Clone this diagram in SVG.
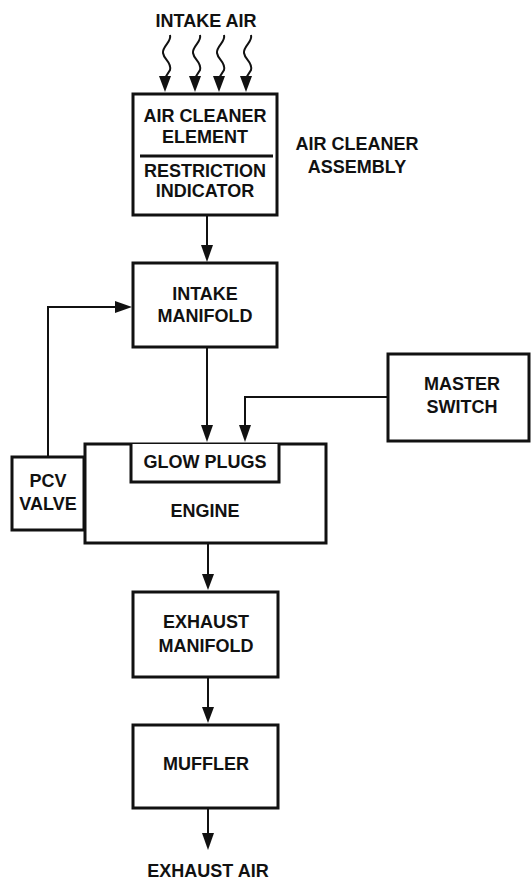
<svg xmlns="http://www.w3.org/2000/svg" width="532" height="881" viewBox="0 0 532 881">
<style>
.box{fill:#fff;stroke:#111;stroke-width:3}
.ln{fill:none;stroke:#111;stroke-width:2}
.hd{fill:#111}
.t{font-family:"Liberation Sans",Arial,sans-serif;font-weight:bold;font-size:18px;fill:#111;text-anchor:middle}
</style>
<text class="t" x="206" y="27">INTAKE AIR</text>
<text class="t" x="357" y="150">AIR CLEANER</text>
<text class="t" x="357" y="173">ASSEMBLY</text>
<g id="connectors">
<path class="ln" d="M170,35 C172,42 162,46 163,53 C164,60 172,62 170,70 L165,78"/>
<path class="ln" d="M200,35 C202,42 192,46 193,53 C194,60 202,62 200,70 L195,78"/>
<path class="ln" d="M224,35 C226,42 216,46 217,53 C218,60 226,62 224,70 L219,78"/>
<path class="ln" d="M251,35 C253,42 243,46 244,53 C245,60 253,62 251,70 L246,78"/>
<polygon class="hd" points="159,76 171,76 165,92"/>
<polygon class="hd" points="189,76 201,76 195,92"/>
<polygon class="hd" points="213,76 225,76 219,92"/>
<polygon class="hd" points="240,76 252,76 246,92"/>
<path class="ln" d="M207,215 L207,246"/>
<polygon class="hd" points="201,245 213,245 207,262"/>
<path class="ln" d="M48,457 L48,307 L117,307"/>
<polygon class="hd" points="115,301 132,307 115,313"/>
<path class="ln" d="M207,347 L207,426"/>
<polygon class="hd" points="201,425 213,425 207,442"/>
<path class="ln" d="M388,397 L245,397 L245,426"/>
<polygon class="hd" points="239,425 251,425 245,442"/>
<path class="ln" d="M208,543 L208,575"/>
<polygon class="hd" points="202,574 214,574 208,590"/>
<path class="ln" d="M208,677 L208,708"/>
<polygon class="hd" points="202,707 214,707 208,723"/>
<path class="ln" d="M208,808 L208,834"/>
<polygon class="hd" points="202,833 214,833 208,850"/>
</g>
<g id="air-cleaner">
<rect class="box" x="133" y="94" width="144" height="121"/>
<line x1="140" y1="156" x2="273" y2="156" stroke="#111" stroke-width="3"/>
<text class="t" x="205" y="122">AIR CLEANER</text>
<text class="t" x="205" y="143">ELEMENT</text>
<text class="t" x="205" y="177">RESTRICTION</text>
<text class="t" x="205" y="197">INDICATOR</text>
</g>
<g id="intake-manifold">
<rect class="box" x="133" y="263" width="144" height="84"/>
<text class="t" x="205" y="300">INTAKE</text>
<text class="t" x="205" y="322">MANIFOLD</text>
</g>
<g id="master-switch">
<rect class="box" x="388" y="354" width="141" height="87"/>
<text class="t" x="462" y="390">MASTER</text>
<text class="t" x="462" y="413">SWITCH</text>
</g>
<g id="pcv-valve">
<rect class="box" x="12" y="457" width="72" height="73"/>
<text class="t" x="48" y="487">PCV</text>
<text class="t" x="48" y="510">VALVE</text>
</g>
<g id="engine">
<rect class="box" x="85" y="444" width="241" height="99"/>
<text class="t" x="205" y="517">ENGINE</text>
</g>
<g id="glow-plugs">
<path class="box" d="M131,444 L131,482 L279,482 L279,444"/>
<text class="t" x="205" y="468">GLOW PLUGS</text>
</g>
<g id="exhaust-manifold">
<rect class="box" x="133" y="592" width="145" height="85"/>
<text class="t" x="206" y="628">EXHAUST</text>
<text class="t" x="206" y="652">MANIFOLD</text>
</g>
<g id="muffler">
<rect class="box" x="133" y="725" width="145" height="83"/>
<text class="t" x="206" y="770">MUFFLER</text>
</g>
<text class="t" x="208" y="877">EXHAUST AIR</text>
</svg>
